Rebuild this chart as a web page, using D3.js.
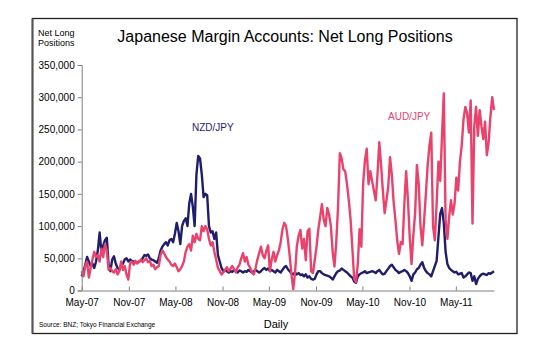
<!DOCTYPE html>
<html><head><meta charset="utf-8">
<script src="https://cdn.jsdelivr.net/npm/d3@7"></script>
<style>
body{margin:0;background:#fff}
svg{display:block}
text{font-family:Arial,"Liberation Sans",sans-serif}
</style>
</head><body>
<svg id="chart" width="550" height="355"></svg>
<script>
// ---- data ----
const startDate = "2007-05-01";
const endDate = "2011-09-27";
const stepDays = 7; // weekly readings
const xTickLabels = ["May-07","Nov-07","May-08","Nov-08","May-09","Nov-09","May-10","Nov-10","May-11"];
const yTickValues = [0,50000,100000,150000,200000,250000,300000,350000];
const seriesNames = ["NZD/JPY","AUD/JPY"];
// net long positions, thousands of contracts
const nzdJpy = [22,30,40,52,45,38,42,35,45,62,
  90,60,70,78,82,40,30,48,53,42,
  35,32,38,42,48,50,45,48,46,45,
  44,43,45,46,50,55,54,56,50,48,
  47,45,43,50,62,68,72,75,70,78,
  80,75,88,105,92,72,100,108,112,100,
  135,150,130,100,180,209,205,180,145,150,
  148,100,90,92,80,90,55,45,35,30,
  32,30,28,30,29,32,30,28,31,30,
  28,30,29,32,30,28,30,32,30,28,
  30,33,35,32,34,30,32,30,28,32,
  30,28,32,36,38,33,30,27,25,28,
  25,27,24,25,22,25,20,22,
  18,17,18,25,30,30,27,25,24,23,
  22,20,17,22,27,30,31,34,32,30,
  28,25,22,20,14,12,22,25,27,28,
  30,27,28,29,30,29,27,30,32,28,
  25,26,30,34,38,40,36,32,30,27,
  29,30,32,30,27,22,15,25,28,33,
  35,40,44,35,30,27,25,22,30,38,
  46,83,119,128,105,60,41,35,32,30,
  28,29,25,26,27,20,22,25,28,27,
  15,22,10,18,22,25,26,25,24,27,
  26,28,30];
const audJpy = [30,22,38,45,20,35,48,60,52,55,
  45,65,52,72,62,32,35,30,28,33,
  25,30,45,32,38,25,17,42,45,40,
  46,42,45,48,44,47,50,44,46,38,
  40,33,36,38,55,62,58,52,48,45,
  40,38,42,36,30,33,38,45,60,68,
  72,62,85,75,88,80,78,100,92,100,
  95,80,70,75,60,48,35,30,25,28,
  32,36,30,34,38,33,28,36,40,50,
  58,45,52,40,35,28,25,35,48,58,
  68,55,50,62,70,30,48,60,45,55,
  62,75,95,105,100,80,55,25,
  2,27,68,85,94,65,80,47,92,96,
  30,27,47,68,95,114,134,110,100,128,
  118,100,60,37,75,130,213,205,188,185,
  165,140,110,65,18,13,40,95,68,166,
  202,220,165,185,170,155,140,180,230,195,
  155,120,140,161,207,180,138,110,78,57,
  75,72,135,185,140,82,41,86,120,195,
  165,100,70,108,150,195,225,245,99,78,
  135,200,170,240,306,110,80,115,140,118,
  135,175,155,200,225,266,285,275,245,295,
  104,255,285,240,280,255,235,262,210,230,
  270,300,280];

// ---- chart ----
const svg = d3.select("#chart");
const parseISO = d3.timeParse("%Y-%m-%d");
const parseTick = d3.timeParse("%b-%y");
const t0 = parseISO(startDate);

const x = d3.scaleTime().domain([t0, parseISO(endDate)]).range([81.7, 494]);
const y = d3.scaleLinear().domain([0, 350000]).range([290.5, 65]);

const toPoints = arr => arr.map((v, i) => ({date: d3.timeDay.offset(t0, i * stepDays), value: v * 1000}));
const series = [
  {name: seriesNames[0], color: "#1f1d6c", pts: toPoints(nzdJpy)},
  {name: seriesNames[1], color: "#e8426d", pts: toPoints(audJpy)}
];

// frame
svg.append("rect").attr("x", 32.5).attr("y", 18.5).attr("width", 484.5).attr("height", 315)
  .attr("fill", "#fff").attr("stroke", "#222").attr("stroke-width", 1.3);
svg.append("line").attr("x1", 32.5).attr("x2", 32.5).attr("y1", 18.5).attr("y2", 333.5)
  .attr("stroke", "#555").attr("stroke-width", 2);

// title
svg.append("text").attr("x", 285).attr("y", 42).attr("text-anchor", "middle")
  .attr("font-size", 16).attr("fill", "#000").text("Japanese Margin Accounts: Net Long Positions");

svg.append("text").attr("x", 38).attr("y", 36).attr("font-size", 9).attr("fill", "#000").text("Net Long");
svg.append("text").attr("x", 38).attr("y", 45.5).attr("font-size", 9).attr("fill", "#000").text("Positions");

// lines
const line = d3.line().x(d => x(d.date)).y(d => y(d.value));
series.forEach(s => {
  svg.append("path").datum(s.pts).attr("d", line)
    .attr("fill", "none").attr("stroke", s.color).attr("stroke-width", 2.4)
    .attr("stroke-linejoin", "round");
});

// y axis
const yAxis = svg.append("g").attr("transform", "translate(81.7,0)")
  .call(d3.axisLeft(y).tickValues(yTickValues).tickFormat(d3.format(",")).tickSize(4).tickPadding(3));
yAxis.select(".domain").attr("stroke", "#808080");
yAxis.selectAll(".tick line").attr("stroke", "#808080");
yAxis.selectAll("text").attr("font-size", 10).attr("font-family", "Arial, 'Liberation Sans', sans-serif").attr("fill", "#000");

// x axis
const xTicks = xTickLabels.map(l => parseTick(l));
const xAxis = svg.append("g").attr("transform", "translate(0,290.5)")
  .call(d3.axisBottom(x).tickValues(xTicks).tickFormat((d, i) => xTickLabels[i]).tickSizeInner(-4).tickSizeOuter(0).tickPadding(8));
xAxis.select(".domain").attr("stroke", "#808080");
xAxis.selectAll(".tick line").attr("stroke", "#808080");
xAxis.selectAll("text").attr("font-size", 10).attr("font-family", "Arial, 'Liberation Sans', sans-serif").attr("fill", "#000");

// series labels
svg.append("text").attr("x", 192).attr("y", 131).attr("font-size", 10).attr("fill", series[0].color).text(series[0].name);
svg.append("text").attr("x", 388).attr("y", 120).attr("font-size", 10).attr("fill", series[1].color).text(series[1].name);

// axis title & source
svg.append("text").attr("x", 276).attr("y", 328).attr("text-anchor", "middle").attr("font-size", 11).attr("fill", "#000").text("Daily");
svg.append("text").attr("x", 39).attr("y", 327).attr("font-size", 6.5).attr("fill", "#000").text("Source: BNZ; Tokyo Financial Exchange");
</script>
</body></html>
